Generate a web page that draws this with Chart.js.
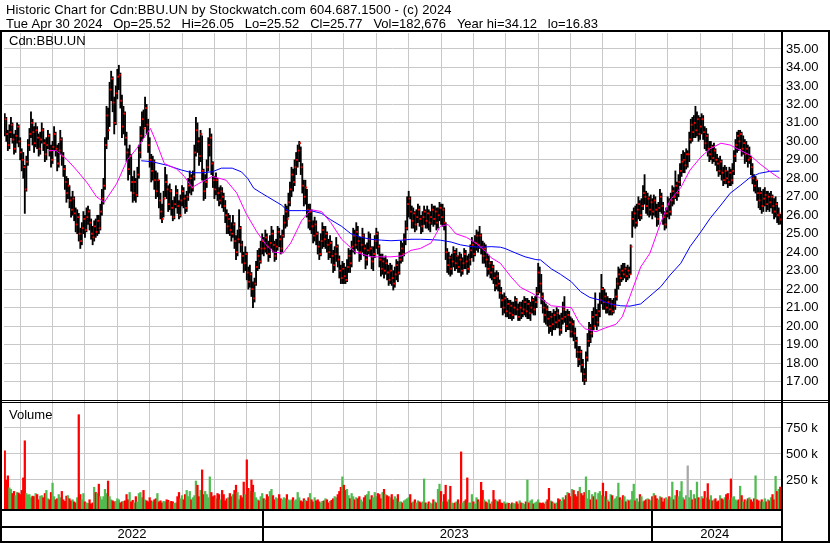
<!DOCTYPE html>
<html>
<head>
<meta charset="utf-8">
<script src="https://cdn.jsdelivr.net/npm/chart.js@4.4.0/dist/chart.umd.min.js"></script>
<style>
  html, body { margin: 0; padding: 0; background: #fff; }
  canvas { display: block; }
</style>
</head>
<body>
<canvas id="c" width="830" height="543"></canvas>
<script>
// daily bars, May 2022 .. Apr 2024, 21 trading days per month row
const highs = [
  31.5,31.3,30.6,30.9,31.3,31.0,30.4,30.6,31.0,30.9,30.2,29.6,29.4,28.7,29.2,30.1,30.7,31.6,31.2,30.8,31.0,
  30.8,30.4,30.5,31.0,30.7,30.1,30.2,30.6,30.4,29.8,30.0,30.8,30.5,29.8,29.9,30.6,30.2,29.4,28.7,28.1,28.0,
  27.6,27.0,27.3,27.0,26.4,26.3,26.1,25.3,25.6,26.2,26.0,26.4,26.5,26.3,25.8,25.4,25.7,25.8,26.0,26.0,26.6,
  27.4,28.0,30.2,31.9,31.8,33.2,33.8,33.5,32.4,33.0,33.9,34.12,33.7,32.5,31.9,31.6,30.5,29.6,29.8,29.3,28.1,
  28.4,28.0,28.6,29.8,30.8,31.6,31.7,32.4,32.0,31.2,30.2,29.3,29.2,29.0,28.4,28.3,27.9,27.2,26.6,27.3,28.6,
  28.2,27.6,27.7,27.4,26.8,27.0,27.6,27.4,26.8,27.1,27.6,27.5,27.1,27.3,28.0,28.4,28.2,28.4,29.8,31.3,31.0,
  30.2,30.6,30.3,28.5,28.2,29.0,30.2,30.7,30.4,28.9,28.1,28.3,28.0,27.5,27.6,27.5,27.2,26.8,26.3,26.1,26.0,
  25.6,26.0,25.6,24.9,25.2,26.3,25.4,24.6,24.0,24.3,24.0,23.2,23.3,22.9,22.4,22.6,23.5,24.1,24.2,24.6,25.0,
  24.8,25.2,25.0,24.6,24.9,25.4,25.2,24.6,24.7,25.4,25.3,24.9,25.2,26.0,26.6,26.5,27.2,27.8,28.6,28.5,29.0,
  29.4,29.8,30.0,29.7,28.8,27.9,27.9,27.4,26.6,26.6,26.3,25.7,25.9,25.7,25.1,24.6,25.0,25.6,25.4,25.4,25.1,
  24.7,24.9,24.6,24.1,24.3,24.8,24.4,23.8,23.3,23.5,23.4,23.2,23.6,24.2,24.1,24.6,25.3,25.2,25.6,25.4,24.8,
  24.8,25.3,25.0,24.4,24.5,25.1,25.0,24.3,24.3,24.9,25.3,25.1,24.4,23.9,23.9,23.7,23.8,23.6,23.3,23.4,23.3,
  23.0,23.2,23.6,23.5,24.0,24.6,24.5,25.0,25.7,27.0,27.3,27.0,26.5,26.4,26.2,26.3,26.6,26.5,26.0,26.2,26.5,
  26.3,26.5,26.3,26.2,26.6,26.5,26.5,26.4,26.4,26.7,26.6,26.6,26.4,25.6,24.2,24.0,23.8,23.9,24.3,24.1,24.2,
  23.8,24.0,23.9,23.7,24.2,24.1,23.8,23.9,24.4,24.8,24.6,24.9,25.2,25.1,25.4,25.0,24.6,24.5,24.4,23.9,23.8,
  23.5,23.5,23.3,22.9,23.0,22.9,22.5,22.1,21.7,21.8,21.6,21.5,21.4,21.4,21.3,21.3,21.6,21.5,21.2,21.3,21.3,
  21.4,21.6,21.5,21.5,21.4,21.3,21.6,21.5,21.6,22.1,23.4,23.2,22.8,21.8,21.4,21.2,21.1,20.8,20.8,20.7,20.9,
  20.8,21.0,20.9,20.6,20.7,21.3,21.6,20.8,20.9,20.8,20.5,20.4,20.3,19.9,19.4,18.9,18.9,18.7,18.2,17.7,18.6,
  19.6,20.2,20.1,20.8,21.0,21.8,20.9,21.2,21.8,22.8,22.1,22.0,21.8,21.6,21.5,21.5,21.4,21.5,22.0,22.6,23.2,
  23.1,23.3,23.4,23.4,23.2,23.3,23.2,24.4,26.2,26.4,26.5,26.6,27.0,26.8,26.9,27.6,28.2,27.3,27.2,27.0,27.1,
  26.9,27.1,27.0,26.6,26.7,27.4,27.2,26.7,26.2,26.4,27.0,26.9,27.2,27.6,27.5,28.4,27.8,28.2,28.8,29.3,29.5,
  29.4,29.6,29.5,30.5,31.2,31.3,31.4,31.9,31.6,31.4,31.3,31.5,31.4,30.8,30.7,30.4,30.0,30.0,29.8,29.9,29.6,
  29.3,29.1,29.2,29.0,28.6,28.7,28.6,28.4,28.6,28.5,28.8,29.5,30.1,30.5,30.6,30.6,30.5,30.3,30.1,30.0,29.8,
  29.7,29.2,28.8,28.2,28.1,27.9,27.5,27.5,27.3,27.4,27.5,27.3,27.3,27.2,27.3,27.1,26.9,27.0,26.7,26.4,26.05
];
const lows = [
  30.3,30.0,29.5,29.6,30.2,29.9,29.3,29.4,29.9,29.7,29.0,28.4,28.0,26.1,27.3,28.7,29.5,30.2,29.8,29.4,29.7,
  29.6,29.2,29.3,29.9,29.5,28.9,29.0,29.6,29.2,28.6,28.8,29.5,29.2,28.4,28.6,29.3,28.7,28.1,27.4,26.7,26.9,
  26.4,25.9,26.0,25.7,25.1,25.0,24.6,24.2,24.4,25.0,24.8,25.1,25.5,25.2,24.7,24.4,24.6,24.8,24.9,25.0,25.2,
  26.0,26.6,27.4,29.6,30.1,30.8,32.2,31.6,30.4,30.9,32.3,32.8,31.8,30.2,30.4,29.8,28.9,27.9,28.2,27.3,26.7,
  26.8,26.7,27.0,28.0,29.1,30.0,30.2,30.8,30.4,29.4,28.6,27.8,27.9,27.4,26.9,27.0,26.4,25.8,25.6,25.9,27.0,
  26.9,26.2,26.3,26.0,25.7,25.8,26.4,26.1,25.8,25.9,26.5,26.4,26.1,26.2,26.8,27.2,27.1,27.3,27.9,29.2,29.4,
  28.7,28.9,27.9,26.8,26.9,27.5,28.4,29.2,28.2,27.5,26.9,27.1,26.8,26.5,26.6,26.4,26.2,25.6,25.0,25.0,24.9,
  24.6,24.8,24.2,23.6,23.8,24.5,24.0,23.4,22.9,23.0,22.5,22.0,22.1,21.6,21.0,21.3,22.2,23.0,23.1,23.4,23.9,
  23.8,24.0,23.9,23.5,23.7,24.2,24.0,23.5,23.6,24.1,24.3,23.9,24.0,24.8,25.3,25.4,25.9,26.5,27.0,27.3,27.6,
  28.2,28.6,28.9,28.2,27.2,26.5,26.6,25.9,25.3,25.2,25.0,24.5,24.6,24.4,23.9,23.6,23.8,24.2,24.3,24.2,24.0,
  23.6,23.7,23.4,22.9,23.0,23.5,23.2,22.6,22.3,22.3,22.3,22.3,22.4,22.9,22.9,23.2,24.0,23.9,24.2,24.1,23.5,
  23.6,24.0,23.8,23.1,23.3,23.9,23.8,23.1,23.0,23.7,24.2,23.9,23.2,22.7,22.8,22.6,22.8,22.5,22.2,22.3,22.2,
  21.95,22.1,22.5,22.4,22.8,23.4,23.5,23.8,24.4,25.2,25.9,25.8,25.3,25.3,25.1,25.2,25.6,25.4,25.0,25.1,25.5,
  25.3,25.3,25.2,25.1,25.5,25.4,25.5,25.2,25.3,25.7,25.5,25.4,25.2,23.6,22.9,22.8,22.7,22.8,23.2,23.0,23.1,
  22.9,22.9,22.7,22.8,23.1,23.1,22.8,22.9,23.3,23.7,23.5,23.8,24.1,24.0,24.2,23.9,23.4,23.4,23.2,22.7,22.8,
  22.6,22.5,22.3,21.9,22.0,21.9,21.5,21.0,20.6,20.7,20.5,20.5,20.4,20.4,20.3,20.4,20.6,20.6,20.3,20.3,20.4,
  20.5,20.6,20.5,20.4,20.4,20.3,20.7,20.6,20.6,21.0,21.7,21.8,21.2,20.7,20.2,20.1,20.0,19.6,19.7,19.5,19.8,
  19.8,19.9,19.9,19.5,19.6,20.1,20.2,19.7,19.8,19.8,19.4,19.4,19.2,18.8,18.3,17.8,17.9,17.5,17.0,16.83,17.0,
  18.1,18.9,19.1,19.4,19.8,20.0,19.8,20.0,20.5,21.2,20.9,20.9,20.7,20.7,20.6,20.6,20.6,20.7,20.9,21.4,22.0,
  22.2,22.4,22.5,22.6,22.4,22.5,22.6,22.8,24.8,25.4,25.3,25.4,25.8,25.7,25.8,26.3,26.6,26.1,26.0,25.9,26.0,
  25.8,26.0,25.9,25.4,25.5,26.2,26.1,25.5,25.2,25.3,25.9,25.8,26.0,26.5,26.6,26.9,26.8,27.0,27.6,28.1,28.3,
  28.3,28.5,28.6,28.9,29.9,30.0,30.2,30.2,30.3,30.0,30.1,30.4,30.1,29.6,29.5,29.2,28.9,29.0,28.8,28.9,28.7,
  28.4,28.1,28.2,27.9,27.6,27.7,27.7,27.5,27.6,27.6,27.7,28.2,28.9,29.4,29.5,29.6,29.2,29.3,28.8,28.9,28.6,
  28.8,28.2,27.7,27.3,27.2,26.8,26.4,26.3,26.1,26.2,26.5,26.2,26.3,26.2,26.4,26.1,25.8,25.9,25.6,25.5,25.52
];
const closes = [
  31.2,30.4,29.8,30.5,30.9,30.1,29.6,30.3,30.8,30.0,29.4,29.0,28.6,27.4,28.9,29.8,30.4,31.0,30.5,29.9,30.6,
  30.2,29.6,30.1,30.6,29.9,29.3,29.8,30.3,29.5,29.0,29.7,30.4,29.6,28.8,29.5,30.1,29.2,28.5,27.8,27.2,27.6,
  26.8,26.3,26.9,26.1,25.5,25.9,25.0,24.6,25.3,25.8,25.2,25.9,26.2,25.6,25.0,24.8,25.4,25.1,25.7,25.3,26.2,
  26.9,27.6,29.8,31.4,30.6,32.8,33.4,32.1,31.0,32.6,33.5,33.6,32.2,30.8,31.5,30.2,29.4,28.5,29.2,27.8,27.2,
  27.8,27.1,28.2,29.4,30.3,31.2,30.7,31.8,30.9,29.8,29.0,28.4,28.9,27.9,27.3,27.9,26.8,26.2,25.8,26.9,27.8,
  27.4,26.6,27.3,26.4,25.9,26.6,27.2,26.5,26.0,26.8,27.3,26.9,26.4,27.0,27.6,28.0,27.5,28.1,29.4,30.6,30.0,
  29.2,30.4,28.4,27.3,27.8,28.6,29.8,30.2,28.8,27.9,27.4,27.9,27.2,26.8,27.3,27.0,26.5,26.0,25.4,25.8,25.2,
  25.0,25.5,24.6,24.0,24.7,25.3,24.4,23.8,23.4,23.9,22.9,22.4,22.8,22.0,21.5,22.3,23.2,23.8,23.5,24.2,24.6,
  24.2,24.8,24.3,23.9,24.5,25.0,24.4,23.8,24.3,25.1,24.7,24.2,24.9,25.6,26.2,25.8,26.7,27.4,28.2,27.8,28.6,
  29.0,29.5,29.9,28.6,27.6,27.0,27.5,26.3,25.7,26.2,25.4,24.9,25.5,25.0,24.3,23.9,24.6,25.2,24.7,25.0,24.4,
  24.0,24.5,23.8,23.3,23.9,24.3,23.6,23.0,22.6,23.1,22.7,22.5,23.2,23.8,23.4,24.3,24.9,24.4,25.1,24.6,24.0,
  24.4,24.9,24.2,23.6,24.1,24.7,24.2,23.5,23.9,24.6,25.0,24.3,23.6,23.1,23.5,23.0,23.4,22.9,22.5,23.0,22.6,
  22.3,22.8,23.3,22.9,23.6,24.2,23.9,24.7,25.3,26.6,26.9,26.2,25.7,26.1,25.5,25.9,26.3,25.8,25.4,25.9,26.2,
  25.7,26.1,25.6,25.9,26.3,25.8,26.2,25.6,26.0,26.4,25.9,26.3,25.6,24.0,23.3,23.7,23.1,23.5,24.0,23.4,23.8,
  23.2,23.6,23.0,23.4,23.9,23.5,23.1,23.6,24.1,24.4,23.9,24.5,24.9,24.4,24.9,24.3,23.8,24.2,23.6,23.1,23.4,
  22.9,23.2,22.6,22.2,22.7,22.3,21.8,21.4,21.0,21.5,20.8,21.2,20.7,21.1,20.6,21.0,21.4,20.9,20.5,21.0,20.7,
  20.9,21.3,20.8,21.2,20.7,21.0,21.4,20.9,21.3,21.8,22.9,22.3,21.6,21.0,20.6,20.9,20.4,20.0,20.5,20.1,20.6,
  20.2,20.7,20.3,19.8,20.4,20.9,20.5,20.0,20.6,20.2,19.7,20.1,19.6,19.2,18.6,18.2,18.6,17.9,17.4,17.1,18.3,
  19.2,19.9,19.6,20.5,20.0,20.6,20.2,20.8,21.4,22.0,21.3,21.6,21.0,21.3,20.9,21.2,20.8,21.1,21.6,22.3,22.8,
  22.6,23.0,22.8,23.1,22.7,23.0,22.8,24.3,25.8,26.1,25.6,26.3,26.6,26.0,26.5,27.2,27.0,26.5,26.9,26.3,26.7,
  26.2,26.8,26.3,25.8,26.4,27.0,26.5,25.9,25.5,26.1,26.6,26.2,26.8,27.3,27.0,27.6,27.2,27.8,28.4,28.9,29.0,
  28.7,29.3,29.3,30.1,30.9,30.5,31.0,30.6,31.2,30.4,30.8,31.2,30.5,29.9,30.3,29.6,29.3,29.7,29.1,29.5,29.0,
  28.8,28.4,28.9,28.3,27.9,28.4,28.0,27.8,28.3,27.9,28.4,29.2,29.8,30.3,30.0,30.4,29.6,29.9,29.3,29.6,29.0,
  29.1,28.6,28.0,27.6,27.9,27.2,26.8,27.2,26.5,26.9,27.1,26.6,27.0,26.7,27.0,26.5,26.2,26.6,26.0,26.1,25.77
];
// volume in thousands of shares
const volumes = [
  531,250,290,175,160,120,140,100,130,125,110,150,270,627,120,105,110,80,95,90,120,
  110,60,95,100,80,120,150,70,60,130,220,90,60,70,110,80,140,60,45,95,100,
  70,50,60,40,30,80,878,110,60,120,40,30,25,60,20,30,180,130,120,210,90,
  60,90,160,120,240,90,60,50,40,45,70,60,30,40,45,50,110,60,130,40,55,
  30,90,40,120,130,80,150,60,50,40,80,50,40,60,70,120,40,50,30,45,40,
  60,55,35,45,40,25,30,90,130,70,100,60,110,150,90,140,60,80,100,240,200,
  90,150,347,110,140,110,80,280,130,90,100,70,120,110,60,150,110,50,70,80,120,
  90,110,150,200,130,60,100,80,230,110,444,170,140,250,200,130,80,60,50,90,120,
  70,60,110,90,140,160,100,60,80,70,110,70,60,80,70,110,60,50,60,80,50,
  60,130,80,50,40,70,55,45,80,120,60,40,80,50,60,40,30,45,50,70,60,
  30,45,55,70,90,80,110,140,180,280,200,150,160,100,70,120,90,60,80,70,90,
  60,40,80,100,110,140,60,100,80,130,90,120,110,70,130,160,110,100,90,80,110,
  60,90,70,110,40,40,30,50,60,70,80,110,30,40,60,30,50,40,30,40,260,
  30,20,40,30,20,60,40,30,160,210,140,40,110,200,40,60,190,30,25,30,40,
  60,20,520,30,45,60,270,30,30,110,40,20,80,60,40,228,150,60,40,30,60,
  20,40,150,60,50,40,60,30,25,40,20,30,25,15,30,25,20,40,20,50,30,
  25,15,40,250,30,50,60,20,30,40,60,30,25,30,20,40,60,170,50,40,30,
  20,30,70,60,45,80,60,100,130,120,90,160,150,110,90,140,180,120,100,130,280,
  70,150,60,110,90,130,60,120,140,100,220,90,140,60,40,110,100,60,70,90,220,
  80,60,100,90,40,60,50,60,140,210,50,70,40,110,90,40,50,60,70,60,50,
  90,120,100,70,60,90,80,40,70,80,60,90,80,230,60,100,150,90,140,235,80,
  60,100,386,80,150,60,110,70,230,80,60,90,70,140,80,215,60,100,50,60,70,
  40,50,100,70,60,80,110,120,60,260,80,90,60,50,60,190,100,40,60,50,70,
  80,60,40,70,290,60,50,40,60,40,70,40,60,50,80,110,60,285,140,160,183
];

// moving averages (trading day index, price)
const pinkDays = [29,34,41,47,54,60,65,73,80,86,95,99,104,112,117,122,126,135,144,151,157,164,170,175,181,186,193,199,206,212,219,228,238,251,258,264,270,277,283,288,293,300,306,313,316,322,329,335,342,348,355,361,368,373,377,384,390,397,401,406,413,419,426,432,439,445,452,458,465,471,478,484,490,497,503];
const pinkValues = [29.5,29.5,29.0,28.45,27.75,27.0,26.7,27.7,29.0,29.6,30.7,29.9,28.8,28.5,28.1,27.5,27.7,28.1,27.9,27.2,26.1,25.1,24.4,24.0,23.95,24.5,25.7,26.3,26.2,25.6,24.7,24.0,23.75,23.75,23.8,24.1,24.2,24.5,25.4,25.5,25.0,24.8,24.5,24.0,23.7,23.4,22.65,22.1,21.8,21.5,21.1,21.05,21.0,20.2,19.85,19.7,19.9,20.1,20.5,21.6,23.2,23.95,25.6,26.8,27.5,28.45,29.15,29.6,29.9,29.8,29.5,29.25,28.8,28.35,28.0];
const blueDays = [89,96,106,115,122,128,135,141,148,154,158,162,167,171,180,184,193,199,206,212,219,225,232,238,245,251,258,264,270,277,283,290,296,303,309,316,322,325,332,338,345,348,355,361,368,374,380,387,393,400,406,413,419,426,432,439,445,452,458,465,471,478,484,490,497,503];
const blueValues = [28.95,28.9,28.7,28.45,28.3,28.3,28.35,28.55,28.55,28.35,28.0,27.46,27.2,27.0,26.55,26.25,26.25,26.25,26.1,25.75,25.4,25.0,24.8,24.7,24.65,24.62,24.65,24.7,24.7,24.68,24.65,24.55,24.4,24.3,24.27,24.3,24.27,24.2,23.95,23.75,23.6,23.58,23.1,22.8,22.4,21.86,21.55,21.4,21.2,21.1,21.08,21.2,21.63,22.13,22.76,23.4,24.3,25.1,25.83,26.55,27.19,27.64,28.05,28.27,28.38,28.39];

const yearLabels = ['2022', '2023', '2024'];
const yearStarts = [168, 420];      // first trading day of 2023, 2024
const yearMiddles = [83, 292, 461];
const priceTicks = [17,18,19,20,21,22,23,24,25,26,27,28,29,30,31,32,33,34,35];
const volumeTicks = [250000, 500000, 750000];

const title1 = 'Historic Chart for Cdn:BBU.UN by Stockwatch.com 604.687.1500 - (c) 2024';
const title2 = 'Tue Apr 30 2024   Op=25.52   Hi=26.05   Lo=25.52   Cl=25.77   Vol=182,676   Year hi=34.12   lo=16.83';

const N = closes.length;
const monthTicks = [];
for (let m = 21; m < N; m += 21) monthTicks.push(m);

const FONT = '"Liberation Sans", Arial, sans-serif';
const GRID = '#c8c8c8';

const volColors = closes.map((c, i) => {
    if (i > 0 && c > closes[i - 1]) return '#50bb50';
    if (i > 0 && c === closes[i - 1]) return '#a8a8a8';
    return '#ff0000';
});

const framePlugin = {
    id: 'frame',
    beforeDraw(chart) {
        const ctx = chart.ctx;
        ctx.save();
        ctx.fillStyle = '#fff';
        ctx.fillRect(0, 0, chart.width, chart.height);
        ctx.restore();
    },
    afterDraw(chart) {
        const ctx = chart.ctx;
        const area = chart.chartArea;
        const x = chart.scales.x;
        ctx.save();
        ctx.fillStyle = '#000';
        ctx.font = '13px ' + FONT;
        ctx.textBaseline = 'alphabetic';
        ctx.letterSpacing = '0.14px';
        ctx.fillText(title1, 6, 14);
        ctx.letterSpacing = '0px';
        ctx.fillText(title2, 6, 28);
        ctx.fillText('Cdn:BBU.UN', 9, 45);
        ctx.fillText('Volume', 9, 419);

        const W = chart.width;
        ctx.fillRect(0, 30, W, 2);
        ctx.fillRect(0, 30, 2, 513);
        ctx.fillRect(area.right, 30, 2, 513);
        ctx.fillRect(W - 2, 30, 2, 513);
        ctx.fillRect(0, 400, W, 1);
        ctx.fillRect(0, 402, W, 1);
        ctx.fillRect(0, area.bottom, area.right, 2);
        ctx.fillRect(0, 526, area.right, 2);
        ctx.fillRect(0, 541, W, 2);
        yearStarts.forEach(d => {
            const px = Math.round(x.getPixelForValue(d));
            ctx.fillRect(px - 1, area.bottom, 2, 543 - area.bottom);
        });
        ctx.restore();
    }
};

const TheChart = new Chart(document.getElementById('c'), {
    type: 'bar',
    data: {
        datasets: [{
            type: 'line',
            label: 'MA short',
            data: pinkDays.map((d, i) => ({ x: d, y: pinkValues[i] })),
            borderColor: '#ff00ff',
            borderWidth: 1,
            pointRadius: 0,
            tension: 0,
            xAxisID: 'x',
            yAxisID: 'y',
            order: 0
        }, {
            type: 'line',
            label: 'MA long',
            data: blueDays.map((d, i) => ({ x: d, y: blueValues[i] })),
            borderColor: '#0000ff',
            borderWidth: 1,
            pointRadius: 0,
            tension: 0,
            xAxisID: 'x',
            yAxisID: 'y',
            order: 0
        }, {
            type: 'line',
            label: 'Close',
            data: closes.map((c, i) => ({ x: i + 1.05, y: c })),
            showLine: false,
            pointStyle: 'rect',
            pointRadius: 1.3,
            pointBorderWidth: 0,
            pointBackgroundColor: '#ff0000',
            xAxisID: 'x',
            yAxisID: 'y',
            order: 1
        }, {
            type: 'bar',
            label: 'High-Low',
            data: closes.map((c, i) => ({ x: i + 0.5, y: [lows[i], highs[i]] })),
            backgroundColor: '#000',
            barThickness: 1.2,
            grouped: false,
            xAxisID: 'x',
            yAxisID: 'y',
            order: 2
        }, {
            type: 'bar',
            label: 'Volume',
            data: volumes.map((v, i) => ({ x: i + 0.5, y: v * 1000 })),
            backgroundColor: volColors,
            barThickness: 1.6,
            grouped: false,
            base: -29000,
            xAxisID: 'x',
            yAxisID: 'vol',
            order: 3
        }]
    },
    options: {
        responsive: false,
        animation: false,
        devicePixelRatio: 1,
        layout: { padding: { top: 33, left: 2, right: 0, bottom: 0 } },
        plugins: { legend: { display: false }, tooltip: { enabled: false } },
        scales: {
            x: {
                type: 'linear', position: 'bottom', min: 0, max: N, offset: false,
                afterBuildTicks: s => { s.ticks = monthTicks.map(v => ({ value: v })); },
                afterFit: s => { s.height = 0; },
                ticks: { display: false },
                grid: { color: GRID, drawTicks: false },
                border: { display: false }
            },
            years: {
                type: 'linear', position: 'bottom', min: 0, max: N, offset: false,
                afterBuildTicks: s => { s.ticks = yearMiddles.map(v => ({ value: v })); },
                afterFit: s => { s.height = 34; },
                ticks: {
                    autoSkip: false, maxRotation: 0, padding: 18, color: '#000',
                    font: { family: FONT, size: 13 },
                    callback: (v, i) => yearLabels[i]
                },
                grid: { display: false, drawTicks: false },
                border: { display: false }
            },
            y: {
                type: 'linear', position: 'right', stack: 'panels', stackWeight: 369,
                min: 15.89, max: 35.866,
                afterBuildTicks: s => { s.ticks = priceTicks.map(v => ({ value: v })); },
                afterFit: s => { s.width = 49; },
                ticks: { autoSkip: false, padding: 5, color: '#000', font: { family: FONT, size: 13 }, callback: v => v.toFixed(2) },
                grid: { color: GRID, drawTicks: false },
                border: { display: false }
            },
            vol: {
                type: 'linear', position: 'right', stack: 'panels', stackWeight: 107,
                min: -29000, max: 1000000,
                afterBuildTicks: s => { s.ticks = volumeTicks.map(v => ({ value: v })); },
                afterFit: s => { s.width = 49; },
                ticks: { autoSkip: false, padding: 5, color: '#000', font: { family: FONT, size: 13 }, callback: v => (v / 1000) + ' k' },
                grid: { color: GRID, drawTicks: false },
                border: { display: false }
            }
        }
    },
    plugins: [framePlugin]
});
</script>
</body>
</html>
